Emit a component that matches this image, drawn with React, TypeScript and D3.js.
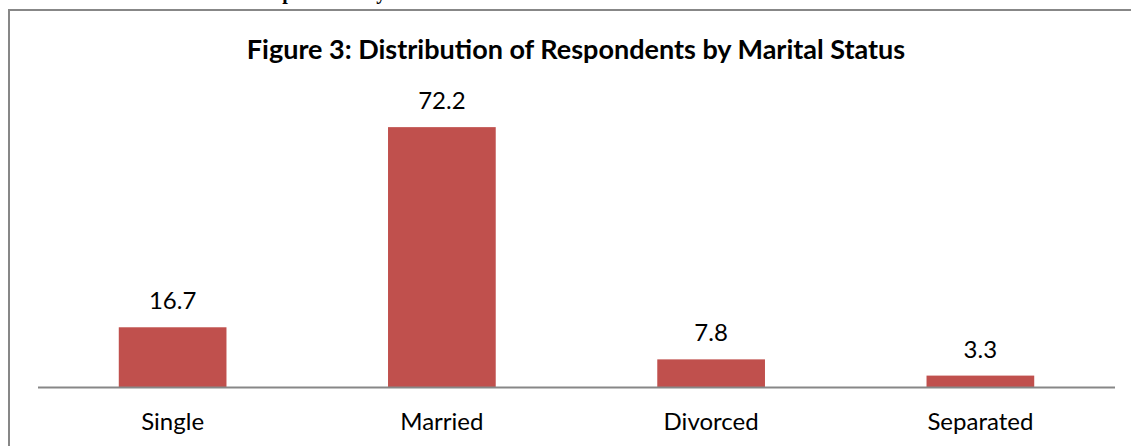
import React from "react";
import * as d3 from "d3";

const categories = ["Single", "Married", "Divorced", "Separated"];
const values = [16.7, 72.2, 7.8, 3.3];
const valueLabels = ["16.7", "72.2", "7.8", "3.3"];
const title = "Figure 3: Distribution of Respondents by Marital Status";
const clippedCaption = "Distribution of Respondents by Marital Status";

const W = 1131;
const H = 446;
const BAR = "#C0504D";
const GRID = "#878787";
const FONT = "Lato, Carlito, Calibri, sans-serif";

export default function App() {
  const x = d3
    .scaleBand<string>()
    .domain(categories)
    .range([38, 1115])
    .paddingInner(0.6)
    .paddingOuter(0.3);
  const y = d3.scaleLinear().domain([0, 80]).range([387.5, 99]);

  return (
    <div style={{ position: "absolute", left: 0, top: 0 }}>
      <svg width={W} height={H} style={{ display: "block", background: "#fff" }}>
        <text
          x={120}
          y={-1}
          fontFamily="'Liberation Serif', 'Times New Roman', serif"
          fontWeight="bold"
          fontSize={20}
          fill="#000"
        >
          {clippedCaption}
        </text>
        <rect x={9} y={10} width={W + 20} height={H + 20} fill="none" stroke={GRID} strokeWidth={2} />
        <text
          x={576}
          y={59}
          textAnchor="middle"
          fontFamily={FONT}
          fontWeight="bold"
          fontSize={27}
          fill="#000"
        >
          {title}
        </text>
        {categories.map((c, i) => (
          <rect
            key={c}
            x={x(c)}
            y={y(values[i])}
            width={x.bandwidth()}
            height={y(0) - y(values[i])}
            fill={BAR}
          />
        ))}
        <line x1={38} x2={1115} y1={y(0)} y2={y(0)} stroke={GRID} strokeWidth={2} />
        {categories.map((c, i) => (
          <text
            key={"v" + c}
            x={(x(c) ?? 0) + x.bandwidth() / 2}
            y={y(values[i]) - 18}
            textAnchor="middle"
            fontFamily={FONT}
            fontSize={24}
            fill="#000"
          >
            {valueLabels[i]}
          </text>
        ))}
        {categories.map((c) => (
          <text
            key={"c" + c}
            x={(x(c) ?? 0) + x.bandwidth() / 2}
            y={430}
            textAnchor="middle"
            fontFamily={FONT}
            fontSize={24}
            fill="#000"
          >
            {c}
          </text>
        ))}
      </svg>
    </div>
  );
}
